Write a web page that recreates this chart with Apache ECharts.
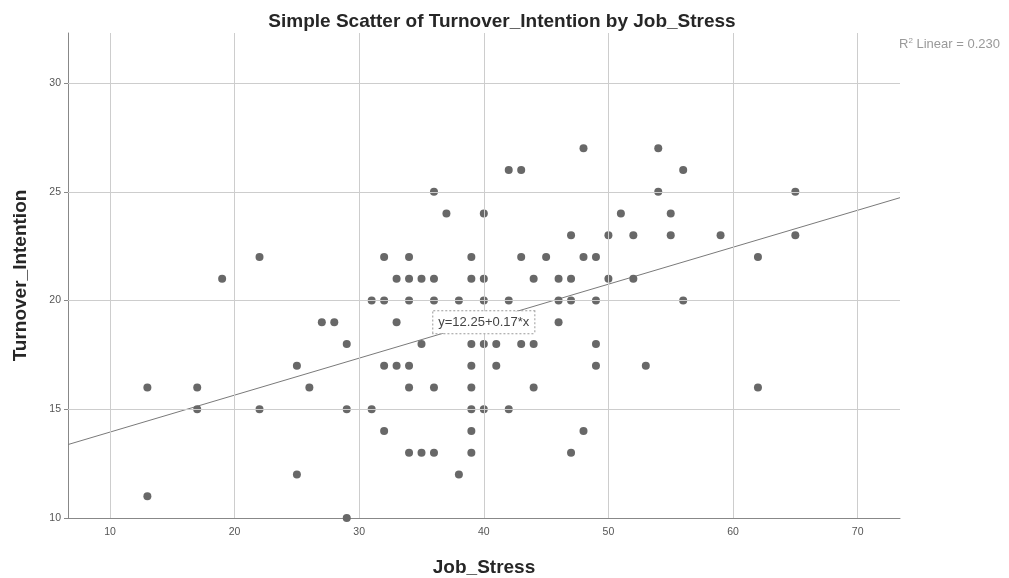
<!DOCTYPE html>
<html>
<head>
<meta charset="utf-8">
<script src="https://cdn.jsdelivr.net/npm/echarts@6/dist/echarts.min.js"></script>
<style>html,body{margin:0;padding:0;background:#fff}#c{width:1009px;height:578px}</style>
</head>
<body>
<div id="c"></div>
<script>
// Data
const jobStress = [
  22,19,27,28,25,13,17,26,17,22,25,13,29,
  42,43,36,37,40,
  32,34,39,43,45,
  33,34,35,36,39,40,44,46,
  31,32,34,36,38,40,42,46,
  33,46,
  29,35,39,40,41,43,44,
  32,33,34,39,41,
  34,36,39,44,
  29,31,39,40,42,
  32,39,
  34,35,36,39,
  38,
  48,54,56,54,65,51,55,
  47,50,52,55,59,65,
  48,49,62,
  47,50,52,
  47,49,56,
  49,49,53,62,48,47
];
const turnoverIntention = [
  22,21,19,19,17,16,16,16,15,15,12,11,10,
  26,26,25,24,24,
  22,22,22,22,22,
  21,21,21,21,21,21,21,21,
  20,20,20,20,20,20,20,20,
  19,19,
  18,18,18,18,18,18,18,
  17,17,17,17,17,
  16,16,16,16,
  15,15,15,15,15,
  14,14,
  13,13,13,13,
  12,
  27,27,26,25,25,24,24,
  23,23,23,23,23,23,
  22,22,22,
  21,21,21,
  20,20,20,
  18,17,17,16,14,13
];
const xTicks = [10, 20, 30, 40, 50, 60, 70];
const yTicks = [10, 15, 20, 25, 30];
const xRange = [6.63, 73.4];
const yRange = [10, 32.3];
const fitIntercept = 12.25;
const fitSlope = 0.17;
const rSquared = '0.230';
const eqAnchor = [40, 19];

const points = jobStress.map((x, i) => [x, turnoverIntention[i]]);
const fitLine = xRange.map(x => [x, fitIntercept + fitSlope * x]);

const chart = echarts.init(document.getElementById('c'), null, {renderer: 'canvas'});
const FONT = '"Liberation Sans", Arial, sans-serif';
const gridStyle = {color: '#cdcdcd', width: 1, type: 'solid'};

chart.setOption({
  animation: false,
  backgroundColor: '#ffffff',
  title: {
    text: 'Simple Scatter of Turnover_Intention by Job_Stress',
    left: 497, top: 7, textAlign: 'center',
    textStyle: {fontFamily: FONT, fontSize: 19, fontWeight: 'bold', color: '#262626'}
  },
  graphic: [{
    type: 'text', left: 899, top: 37,
    style: {
      text: '{a|R}{s|2}{a| Linear = ' + rSquared + '}',
      rich: {
        a: {fontFamily: FONT, fontSize: 13, fill: '#999', color: '#999'},
        s: {fontFamily: FONT, fontSize: 8, fill: '#999', color: '#999', verticalAlign: 'top', padding: [0,0,7,0]}
      }
    }
  }],
  grid: {left: 68, right: 109, top: 33, bottom: 60, containLabel: false, outerBoundsMode: 'none'},
  xAxis: {
    type: 'value', min: xRange[0], max: xRange[1],
    name: 'Job_Stress', nameLocation: 'middle', nameGap: 40,
    nameTextStyle: {fontFamily: FONT, fontSize: 19, fontWeight: 'bold', color: '#262626'},
    axisLine: {show: true, onZero: false, lineStyle: {color: '#888', width: 1}},
    axisTick: {show: false, customValues: xTicks},
    axisLabel: {customValues: xTicks, fontFamily: FONT, fontSize: 10.5, color: '#555', margin: 9},
    splitLine: {show: false}
  },
  yAxis: {
    type: 'value', min: yRange[0], max: yRange[1],
    name: 'Turnover_Intention', nameLocation: 'middle', nameGap: 38, nameRotate: 90,
    nameTextStyle: {fontFamily: FONT, fontSize: 19, fontWeight: 'bold', color: '#262626'},
    axisLine: {show: true, onZero: false, lineStyle: {color: '#888', width: 1}},
    axisTick: {show: true, length: 4, customValues: yTicks, lineStyle: {color: '#888'}},
    axisLabel: {customValues: yTicks, fontFamily: FONT, fontSize: 10.5, color: '#555', margin: 7},
    splitLine: {show: false}
  },
  series: [
    {
      name: 'fit', type: 'line', data: fitLine, symbol: 'none', z: 2,
      lineStyle: {color: '#7a7a7a', width: 1},
      silent: true,
      markLine: {
        silent: true, symbol: ['none', 'none'], label: {show: false},
        lineStyle: gridStyle, animation: false,
        data: xTicks.filter(v => v > xRange[0]).map(v => ({xAxis: v}))
          .concat(yTicks.filter(v => v > yRange[0]).map(v => ({yAxis: v})))
      }
    },
    {
      name: 'points', type: 'scatter', data: points, symbol: 'circle', symbolSize: 8, z: 3,
      itemStyle: {color: '#686868', opacity: 1}
    },
    {
      name: 'eq', type: 'scatter', data: [], z: 5,
      markPoint: {
        silent: true, symbol: 'circle', symbolSize: 0, animation: false,
        data: [{coord: eqAnchor}],
        label: {
          show: true, position: 'inside',
          formatter: 'y=' + fitIntercept + '+' + fitSlope + '*x',
          fontFamily: FONT, fontSize: 13, color: '#444',
          backgroundColor: '#ffffff', borderColor: '#9a9a9a', borderWidth: 1, borderType: 'dotted',
          padding: [5, 5, 4, 5]
        }
      }
    }
  ]
});
</script>
</body>
</html>
